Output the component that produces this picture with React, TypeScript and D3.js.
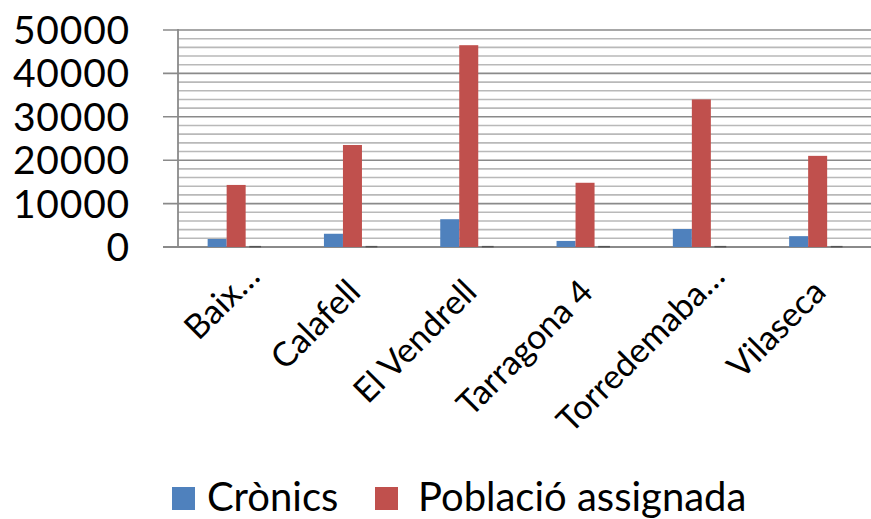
import React from "react";
import * as d3 from "d3";

const categories = ["Baix…", "Calafell", "El Vendrell", "Tarragona 4", "Torredemaba…", "Vilaseca"];
const cronics = [1850, 3050, 6400, 1400, 4150, 2500];
const poblacio = [14300, 23500, 46500, 14800, 34000, 21000];
const percent = [250, 250, 250, 250, 250, 250];
const seriesNames = ["Crònics", "Població assignada", "%"];
const yTicks = [0, 10000, 20000, 30000, 40000, 50000];

const W = 871;
const H = 519;
const FONT = "Lato, 'Open Sans', sans-serif";

export default function App() {
  const left = 178;
  const top = 30;
  const bottom = 247;
  const step = 116.3;
  const y = d3.scaleLinear().domain([0, 50000]).range([bottom, top]);
  const x = d3.scaleBand<string>().domain(categories).range([left, left + step * categories.length]).padding(0);
  const xs = d3.scaleBand<number>().domain([0, 1, 2]).range([0, x.bandwidth()]).paddingInner(0).paddingOuter(1.56);
  const colors = ["#4F81BD", "#C0504D", "#555555"];
  const series = [cronics, poblacio, percent];
  const minor = d3.range(2000, 50001, 2000).filter((v) => v % 10000 !== 0);
  const major = yTicks.filter((v) => v > 0);

  return (
    <svg width={W} height={H} style={{ position: "absolute", left: 0, top: 0, background: "#fff" }}>
      {minor.map((v) => (
        <line key={"mi" + v} x1={left} x2={W} y1={y(v)} y2={y(v)} stroke="#b9b9b9" strokeWidth={1.6} />
      ))}
      {major.map((v) => (
        <line key={"ma" + v} x1={163} x2={W} y1={y(v)} y2={y(v)} stroke="#8a8a8a" strokeWidth={1.6} />
      ))}
      <line x1={163} x2={W} y1={y(0)} y2={y(0)} stroke="#8a8a8a" strokeWidth={1.8} />
      <line x1={left} x2={left} y1={top - 1} y2={bottom} stroke="#8a8a8a" strokeWidth={1.8} />
      {series.map((vals, si) =>
        categories.map((c, i) => {
          const x0 = (x(c) as number) + (xs(si) as number);
          const bw = xs.bandwidth();
          const h = bottom - y(vals[i]);
          const w = si === 2 ? bw * 0.62 : bw;
          const xx = si === 2 ? x0 + (bw - w) / 2 : x0;
          return <rect key={si + "-" + i} x={xx} y={y(vals[i])} width={w} height={Math.max(h, 1.5)} fill={colors[si]} />;
        })
      )}
      {yTicks.map((v) => (
        <text key={"yt" + v} x={130} y={y(v)} dy="0.36em" textAnchor="end" fontFamily={FONT} fontSize={39} letterSpacing={0.8} fill="#000">
          {v}
        </text>
      ))}
      {categories.map((c) => {
        const cx = (x(c) as number) + x.bandwidth() / 2;
        const extra = c.endsWith("…") ? 22 : 0;
        const ax = cx + 10;
        const ay = 294;
        return (
          <text key={"xl" + c} x={ax} y={ay} dx={extra} textAnchor="end" transform={`rotate(-45 ${ax} ${ay})`} fontFamily={FONT} fontSize={34} fill="#000">
            {c}
          </text>
        );
      })}
      <g>
        <rect x={172} y={487} width={23} height={23} fill={colors[0]} />
        <text x={207} y={511} fontFamily={FONT} fontSize={40} fill="#000">{seriesNames[0]}</text>
        <rect x={375} y={487} width={23} height={23} fill={colors[1]} />
        <text x={418} y={511} fontFamily={FONT} fontSize={40} fill="#000">{seriesNames[1]}</text>
      </g>
    </svg>
  );
}
